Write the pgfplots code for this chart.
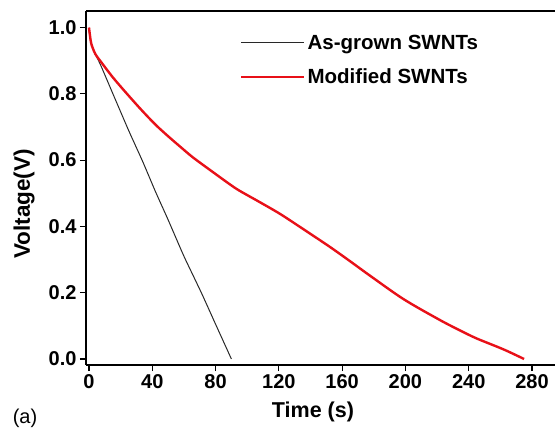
\documentclass[border=0pt]{standalone}
\usepackage{pgfplots}
\pgfplotsset{compat=1.18}
\usepackage{fontspec}
\setmainfont{Liberation Sans}
\definecolor{curvered}{RGB}{232,16,24}
\definecolor{curvegray}{RGB}{40,40,40}

\begin{document}
\begin{tikzpicture}[x=1bp,y=1bp]
\begin{axis}[
  at={(86bp,63bp)}, anchor=south west,
  scale only axis,
  width=474bp, height=354bp,
  xmin=-1.9, xmax=297.7,
  ymin=-0.0181, ymax=1.0498,
  axis lines*=left,
  axis line style={line width=1.4bp},
  tick style={line width=1.2bp,black},
  tick align=outside,
  major tick length=6bp,
  xtick={0,40,...,280},
  ytick={0,0.2,0.4,0.6,0.8,1.0},
  minor tick num=0,
  /pgf/number format/assume math mode=true,
  yticklabel style={/pgf/number format/fixed,/pgf/number format/fixed zerofill,/pgf/number format/precision=1},
  tick label style={font=\fontsize{20bp}{22bp}\selectfont\bfseries},
  legend cell align=left,
  legend style={draw=none, fill=none, at={(rel axis cs:0.3186,0.944)}, anchor=north west,
    font=\fontsize{20.5bp}{22bp}\selectfont\bfseries, row sep=14bp},
  legend image code/.code={\draw[#1] (0bp,0bp) -- (63bp,0bp);},
]
\addplot[curvegray, line width=1bp, smooth, tension=0.3] coordinates {
  (0,0.99) (1,0.96) (3,0.93) (7.5,0.885) (16,0.79) (25,0.69) (34,0.595)
  (42,0.505) (50,0.42) (60,0.31) (71,0.20) (80,0.105) (90,0.0)
};
\addlegendentry{As-grown SWNTs}
\addplot[curvered, line width=2.4bp, smooth, tension=0.5] coordinates {
  (0,1.0) (0.5,0.98) (1.5,0.95) (4,0.92) (7,0.90) (15,0.85) (24,0.80)
  (33,0.752) (42,0.707) (50,0.672) (58,0.639) (66,0.607) (80,0.558) (89,0.527)
  (95,0.508) (108,0.473) (121,0.437) (136,0.39) (152,0.339) (165,0.295)
  (178,0.25) (199,0.18) (222,0.117) (235,0.085) (245,0.062) (262,0.029) (275,0.0)
};
\addlegendentry{Modified SWNTs}
\draw[line width=1.4bp] (rel axis cs:0,1) -- (rel axis cs:1,1);
\end{axis}
\node[font=\fontsize{22.5bp}{24bp}\selectfont\bfseries, rotate=90] at (24bp,224bp) {Voltage(V)};
\node[font=\fontsize{21.5bp}{23bp}\selectfont\bfseries] at (313bp,16bp) {Time (s)};
\node[font=\fontsize{20bp}{22bp}\selectfont] at (25bp,10bp) {(a)};
\pgfresetboundingbox
\useasboundingbox (0,0) rectangle (555bp,428bp);
\end{tikzpicture}
\end{document}
